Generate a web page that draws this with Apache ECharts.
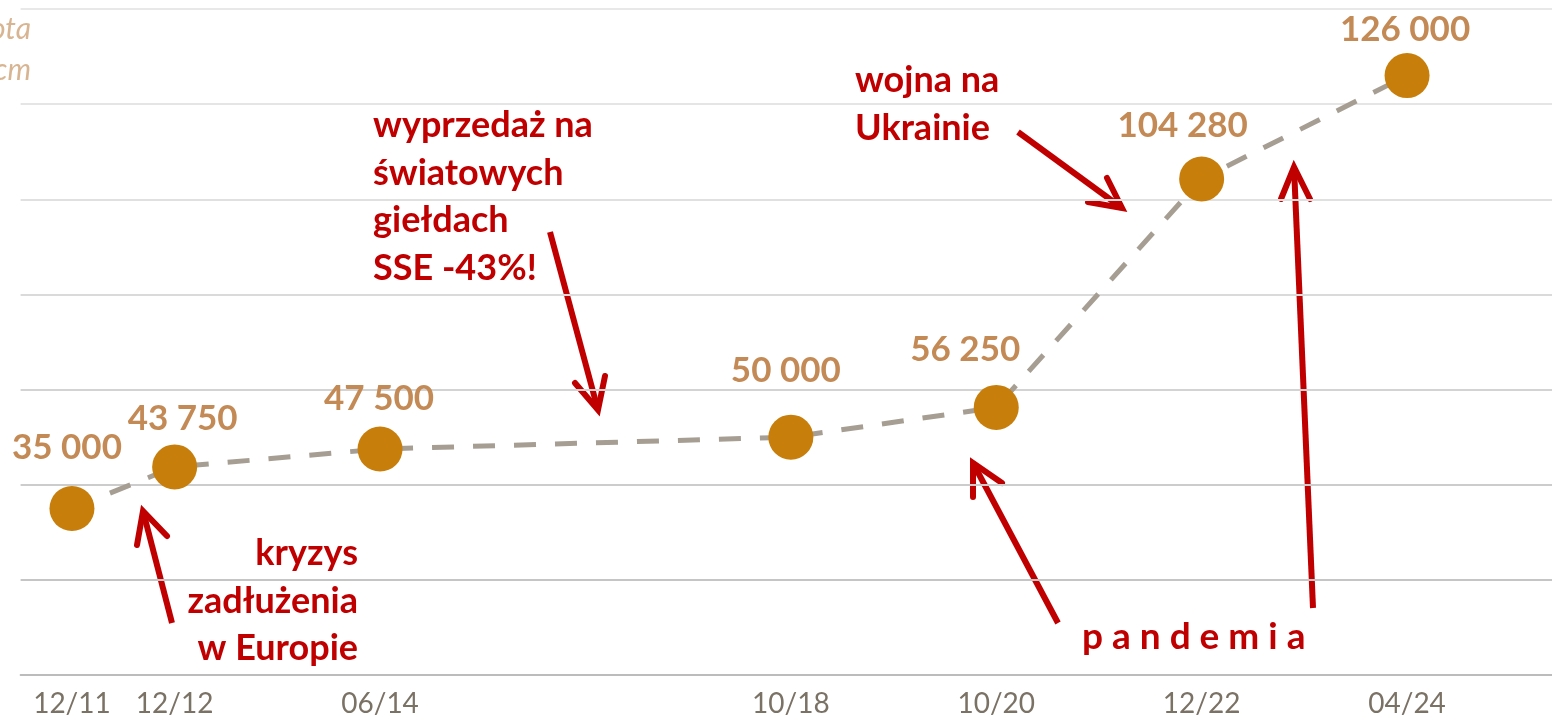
<!DOCTYPE html>
<html>
<head>
<meta charset="utf-8">
<script src="https://cdn.jsdelivr.net/npm/echarts@6/dist/echarts.min.js"></script>
<style>
html,body{margin:0;padding:0;background:#fff;}
#c{width:1552px;height:719px;}
</style>
</head>
<body>
<div id="c"></div>
<script>
// ---- data ----
const categories = ['12/11','12/12','','06/14','','','','10/18','','10/20','','12/22','','04/24',''];
const prices = [35000, 43750, null, 47500, null, null, null, 50000, null, 56250, null, 104280, null, 126000, null];
const valueLabels = ['35 000','43 750','','47 500','','','','50 000','','56 250','','104 280','','126 000',''];
const yTicks = [0, 20000, 40000, 60000, 80000, 100000, 120000, 140000];

// ---- layout (styling only) ----
const labelOffsets = [[-5,-61],[8,-48],[0,0],[-1,-50],[0,0],[0,0],[0,0],[-5,-66],[0,0],[-31,-58],[0,0],[-19,-53],[0,0],[-2,-46],[0,0]];
const gridColors = ['#bdbdbd','#c5c5c5','#cccccc','#d3d3d3','#dadada','#e0e0e0','#e5e5e5','#e8e8e8'];

const RED = '#c00000';
const dataItems = prices.map((v, i) => v == null ? null : {
  value: v,
  label: { show: true, formatter: valueLabels[i], position: 'inside', offset: labelOffsets[i] }
});

function arrow(tail, tip, a1, a2) {
  const st = { stroke: RED, lineWidth: 6, lineCap: 'round', lineJoin: 'miter', fill: null };
  return {
    type: 'group', children: [
      { type: 'line', shape: { x1: tail[0], y1: tail[1], x2: tip[0], y2: tip[1] }, style: Object.assign({}, st, {lineCap:'butt'}) },
      { type: 'polyline', shape: { points: [a1, tip, a2] }, style: st }
    ]
  };
}
function txt(x, y, text, align, size, color, extra) {
  return {
    type: 'text', x: x, y: y,
    style: Object.assign({
      text: text, fill: color || RED, align: align || 'left', verticalAlign: 'top',
      font: 'bold ' + (size || 36) + 'px Lato', lineHeight: 47.5
    }, extra || {})
  };
}

const chart = echarts.init(document.getElementById('c'), null, { renderer: 'canvas' });
chart.setOption({
  animation: false,
  backgroundColor: '#ffffff',
  grid: { left: 20.6, top: 9, width: 1540.5, height: 666, containLabel: false, outerBoundsMode: 'none' },
  xAxis: {
    type: 'category', data: categories, boundaryGap: true,
    axisLine: { show: true, lineStyle: { color: '#bcbcbc', width: 2 } },
    axisTick: { show: false },
    axisLabel: { interval: 0, color: '#7b7266', fontFamily: 'Lato', fontSize: 28, margin: 15 }
  },
  yAxis: {
    type: 'value', min: yTicks[0], max: yTicks[yTicks.length - 1], interval: yTicks[1] - yTicks[0],
    axisLabel: { show: false }, axisLine: { show: false }, axisTick: { show: false },
    splitLine: { show: true, lineStyle: { color: gridColors, width: 2 } }
  },
  series: [{
    type: 'line', data: dataItems, connectNulls: true,
    symbol: 'circle', symbolSize: 45,
    itemStyle: { color: '#c77e0a' },
    lineStyle: { color: '#a69e93', width: 5, type: [22, 19] },
    label: { color: '#c48a55', fontFamily: 'Lato', fontWeight: 'bold', fontSize: 35 },
    z: 3
  }],
  graphic: [
    txt(31, 6, 'ota', 'right', 30, '#d8b592', { font: 'italic 30px Lato' }),
    txt(31, 47, 'cm', 'right', 30, '#d8b592', { font: 'italic 30px Lato' }),
    txt(373, 102, 'wyprzedaż na\nświatowych\ngiełdach\nSSE -43%!', 'left', 36),
    txt(855, 57, 'wojna na\nUkrainie', 'left', 36),
    txt(358, 530, 'kryzys\nzadłużenia\nw Europie', 'right', 36),
    txt(1082, 613, 'p a n d e m i a', 'left', 37),
    arrow([172,623],[143,511],[137,545],[167,536]),
    arrow([550,232],[598,410],[575,383],[605,376]),
    arrow([1018,132],[1122,208],[1088,202],[1107,178]),
    arrow([1058,623],[973,463],[973,497],[1002,483]),
    arrow([1313,608],[1294,167],[1281,199],[1310,199])
  ]
});
</script>
</body>
</html>
